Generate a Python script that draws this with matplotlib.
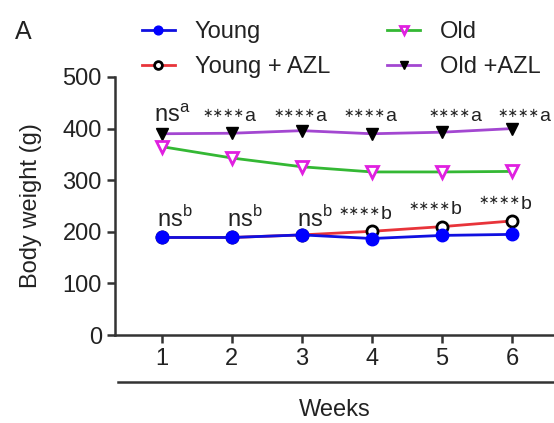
import matplotlib
matplotlib.use("Agg")
import matplotlib.pyplot as plt
from matplotlib.lines import Line2D

plt.rcParams['font.family'] = ['Liberation Sans', 'DejaVu Sans']
plt.rcParams['mathtext.fontset'] = 'custom'
plt.rcParams['mathtext.rm'] = 'Liberation Sans'

# data
weeks = [1, 2, 3, 4, 5, 6]
young = [189, 189, 194, 187, 193, 195]
young_azl = [189, 189, 194, 201, 210, 221]
old = [365, 343, 326, 316, 316, 317]
old_azl = [390, 391, 396, 390, 393, 400]

# significance labels
sig_a = ['ns', '∗∗∗∗', '∗∗∗∗', '∗∗∗∗', '∗∗∗∗', '∗∗∗∗']
sig_b = ['ns', 'ns', 'ns', '∗∗∗∗', '∗∗∗∗', '∗∗∗∗']

txt = '#222222'
fig = plt.figure(figsize=(5.54, 4.23), dpi=100)
ax = fig.add_axes([0.2076, 0.208, 0.7924, 0.61])

ax.plot(weeks, old_azl, color='#a347d1', lw=2, marker='v', ms=9,
        mfc='black', mec='black', label='Old +AZL', zorder=3)
ax.plot(weeks, old, color='#34b834', lw=2, marker='v', ms=9,
        mfc='white', mec='#e020e0', mew=2, label='Old', zorder=3)
ax.plot(weeks, young_azl, color='#e8343a', lw=2, marker='o', ms=8,
        mfc='white', mec='black', mew=2, label='Young + AZL', zorder=3)
ax.plot(weeks, young, color='#1010e0', lw=2, marker='o', ms=9,
        mfc='#0000ff', mec='#0000ff', label='Young', zorder=4)

ax.set_xlim(0.33, 6.6)
ax.set_ylim(0, 500)
ax.set_yticks([0, 100, 200, 300, 400, 500])
ax.set_xticks(weeks)
for s in ['top', 'right']:
    ax.spines[s].set_visible(False)
for s in ['left', 'bottom']:
    ax.spines[s].set_linewidth(1.8)
    ax.spines[s].set_color('#333333')
ax.tick_params(axis='both', labelsize=17, width=1.8, length=6,
               color='#333333', labelcolor=txt)
ax.set_ylabel('Body weight (g)', fontsize=17, color=txt, labelpad=15)


def stars(x, y, s, letter):
    # small stars followed by the group letter, joined near x
    ax.annotate(s, (x, y), xytext=(6, 3), textcoords='offset points',
                ha='right', va='baseline', fontsize=9, color=txt,
                annotation_clip=False)
    ax.annotate(letter, (x, y), xytext=(6, 0), textcoords='offset points',
                ha='left', va='baseline', fontsize=14, color=txt,
                annotation_clip=False)


# significance annotations
a_shift = [0.15, 0.06, 0.07, 0.07, 0.28, 0.27]
for x, s, dx in zip(weeks, sig_a, a_shift):
    if s == 'ns':
        ax.text(x + dx, 413, r'ns$^{\mathrm{a}}$', ha='center', va='baseline',
                fontsize=17, color=txt, clip_on=False)
    else:
        stars(x + dx, 415, s, 'a')
for x, s, v in zip(weeks, sig_b, young_azl):
    if s == 'ns':
        ax.text(x + 0.18, 209, r'ns$^{\mathrm{b}}$', ha='center', va='baseline',
                fontsize=17, color=txt, clip_on=False)
    else:
        stars(x, v + 24, s, 'b')

# weeks bar below tick labels
ax.add_line(Line2D([0.006, 1.0], [-0.182, -0.182], transform=ax.transAxes,
                   color='#333333', lw=1.8, clip_on=False))
ax.text(0.5, -0.29, 'Weeks', transform=ax.transAxes, ha='center', va='center',
        fontsize=17, color=txt)

fig.text(0.027, 0.925, 'A', fontsize=18, va='center', color=txt)

h, l = ax.get_legend_handles_labels()
order = [3, 2, 1, 0]
fig.legend([h[i] for i in order], [l[i] for i in order], ncol=2,
           loc='upper left', bbox_to_anchor=(0.256, 0.95), frameon=False,
           borderpad=0, borderaxespad=0,
           fontsize=17, handlelength=1.4, handletextpad=0.85,
           columnspacing=2.4, labelspacing=0.55, markerscale=0.7,
           labelcolor=txt)

fig.savefig('out.png', dpi=100)
